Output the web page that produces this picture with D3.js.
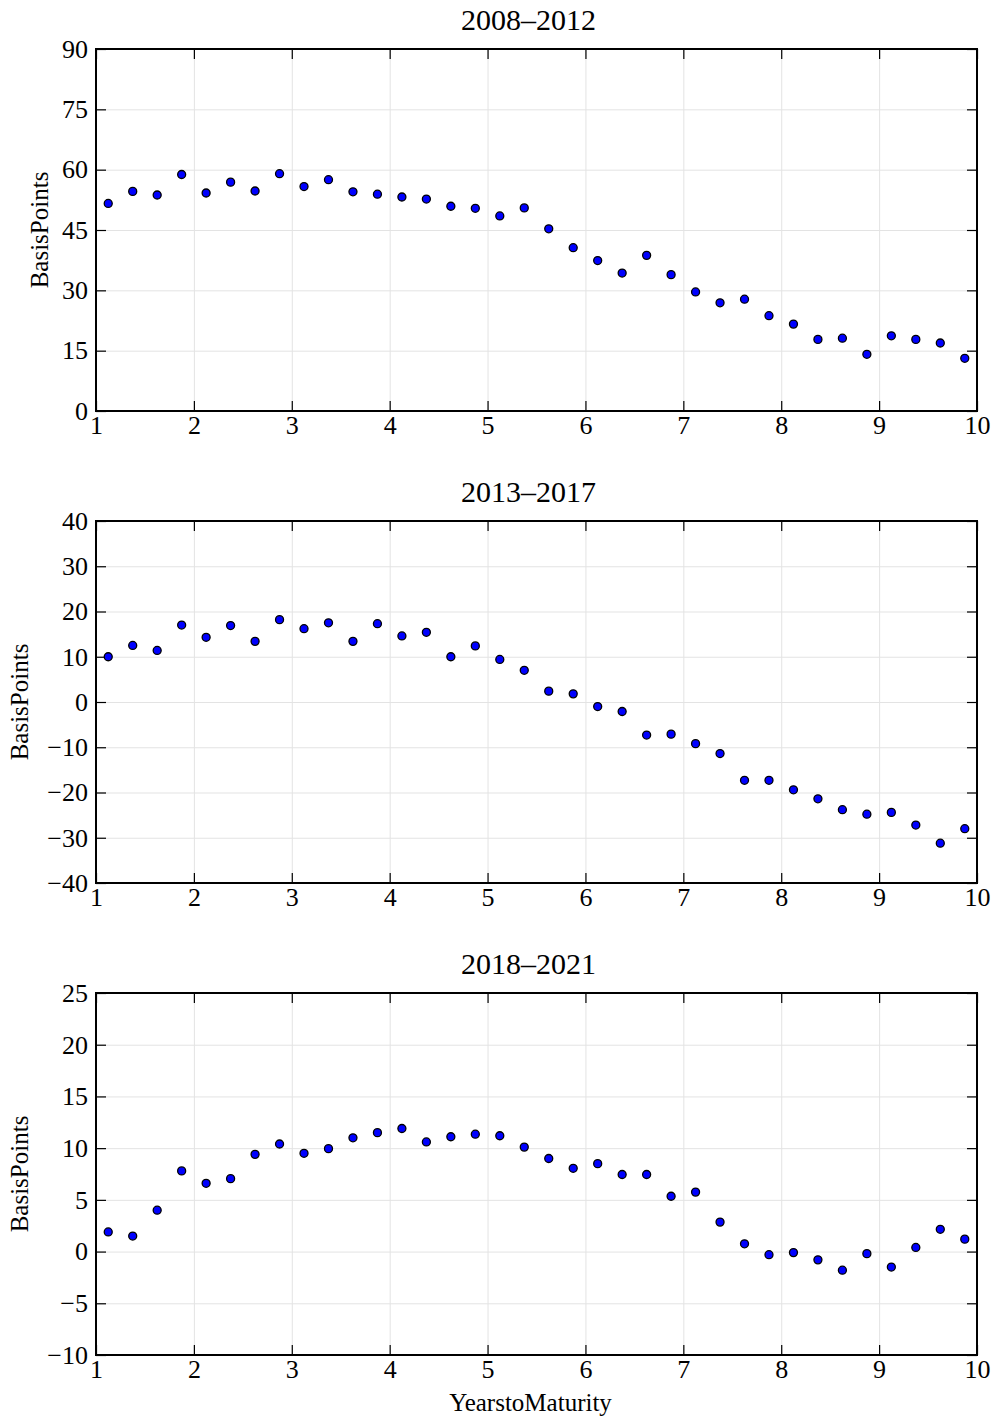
<!DOCTYPE html>
<html>
<head>
<meta charset="utf-8">
<script src="https://cdn.jsdelivr.net/npm/d3@7"></script>
<style>
  body { margin: 0; background: #fff; }
  svg text { font-family: "Liberation Serif", serif; fill: #000; }
</style>
</head>
<body>
<div id="chart"></div>
<script>
// maturities: quarterly buckets 1.125 .. 9.875
const maturities = [1.125, 1.375, 1.625, 1.875, 2.125, 2.375, 2.625, 2.875, 3.125, 3.375, 3.625, 3.875,
    4.125, 4.375, 4.625, 4.875, 5.125, 5.375, 5.625, 5.875, 6.125, 6.375, 6.625, 6.875,
    7.125, 7.375, 7.625, 7.875, 8.125, 8.375, 8.625, 8.875, 9.125, 9.375, 9.625, 9.875];

const bp2008 = [51.6, 54.6, 53.7, 58.8, 54.2, 56.9, 54.7, 59.0, 55.8, 57.5, 54.5, 53.9,
    53.2, 52.7, 50.9, 50.4, 48.5, 50.5, 45.3, 40.6, 37.4, 34.3, 38.7, 33.9,
    29.6, 26.9, 27.8, 23.7, 21.6, 17.8, 18.1, 14.1, 18.7, 17.8, 16.9, 13.1];

const bp2013 = [10.0, 12.5, 11.4, 17.0, 14.3, 16.9, 13.4, 18.2, 16.2, 17.5, 13.4, 17.3,
    14.6, 15.4, 10.0, 12.4, 9.4, 7.0, 2.4, 1.8, -1.0, -2.1, -7.3, -7.1,
    -9.2, -11.4, -17.3, -17.3, -19.4, -21.4, -23.8, -24.8, -24.4, -27.2, -31.2, -28.0];

const bp2018 = [1.9, 1.5, 4.0, 7.8, 6.6, 7.05, 9.4, 10.4, 9.5, 9.95, 11.0, 11.5,
    11.9, 10.6, 11.1, 11.35, 11.2, 10.1, 9.0, 8.05, 8.5, 7.45, 7.45, 5.35,
    5.75, 2.85, 0.75, -0.3, -0.1, -0.8, -1.8, -0.2, -1.5, 0.4, 2.15, 1.2];

const titles = ["2008–2012", "2013–2017", "2018–2021"];
const xTicks = [1, 2, 3, 4, 5, 6, 7, 8, 9, 10];
const yTicks2008 = [0, 15, 30, 45, 60, 75, 90];
const yTicks2013 = [-40, -30, -20, -10, 0, 10, 20, 30, 40];
const yTicks2018 = [-10, -5, 0, 5, 10, 15, 20, 25];

const panels = [
    {title: titles[0], values: bp2008, ticks: yTicks2008, top: 49},
    {title: titles[1], values: bp2013, ticks: yTicks2013, top: 521},
    {title: titles[2], values: bp2018, ticks: yTicks2018, top: 993}
];

const W = 995, H = 1418;
const left = 96, right = 977, ph = 362;
const serif = "Liberation Serif, serif";

let svg = d3.select("#chart").append("svg")
    .attr("width", W)
    .attr("height", H);

let x = d3.scaleLinear().domain([1, 10]).range([0, right - left]);

function fmt(d) {
    // latex style minus sign
    return d < 0 ? "\u2212" + Math.abs(d) : String(d);
}

function drawPanel(p, i) {
    let w = right - left;
    let y = d3.scaleLinear()
        .domain([p.ticks[0], p.ticks[p.ticks.length - 1]])
        .range([ph, 0]);

    let g = svg.append("g")
        .attr("transform", "translate(" + left + "," + p.top + ")");

    // grid
    g.append("g")
        .attr("class", "grid")
        .attr("transform", "translate(0," + ph + ")")
        .call(d3.axisBottom(x).tickValues(xTicks).tickSize(-ph).tickFormat(""));
    g.append("g")
        .attr("class", "grid")
        .call(d3.axisLeft(y).tickValues(p.ticks).tickSize(-w).tickFormat(""));
    g.selectAll(".grid line").attr("stroke", "#e3e3e3").attr("stroke-width", 1);
    g.selectAll(".grid .domain").remove();

    // inward ticks, all four sides
    let tk = 10;
    g.append("g").attr("class", "tk").attr("transform", "translate(0," + ph + ")")
        .call(d3.axisBottom(x).tickValues(xTicks).tickSize(-tk).tickFormat(""));
    g.append("g").attr("class", "tk")
        .call(d3.axisTop(x).tickValues(xTicks).tickSize(-tk).tickFormat(""));
    g.append("g").attr("class", "tk")
        .call(d3.axisLeft(y).tickValues(p.ticks).tickSize(-tk).tickFormat(""));
    g.append("g").attr("class", "tk").attr("transform", "translate(" + w + ",0)")
        .call(d3.axisRight(y).tickValues(p.ticks).tickSize(-tk).tickFormat(""));
    g.selectAll(".tk .domain").remove();
    g.selectAll(".tk line").attr("stroke", "#000").attr("stroke-width", 1.2);

    // tick labels
    let xl = g.append("g").attr("transform", "translate(0," + ph + ")")
        .call(d3.axisBottom(x).tickValues(xTicks).tickSize(0).tickPadding(5));
    xl.attr("font-family", serif).attr("font-size", 26);
    xl.select(".domain").remove();

    let yl = g.append("g")
        .call(d3.axisLeft(y).tickValues(p.ticks).tickSize(0).tickPadding(8).tickFormat(fmt));
    yl.attr("font-family", serif).attr("font-size", 26);
    yl.select(".domain").remove();

    // frame
    g.append("rect")
        .attr("width", w)
        .attr("height", ph)
        .attr("fill", "none")
        .attr("stroke", "#000")
        .attr("stroke-width", 2);

    // points
    g.selectAll(".dot")
        .data(p.values)
        .enter().append("circle")
        .attr("class", "dot")
        .attr("cx", function(d, j){ return x(maturities[j]); })
        .attr("cy", function(d){ return y(d); })
        .attr("r", 4)
        .attr("fill", "#0000ff")
        .attr("stroke", "#000")
        .attr("stroke-width", 1.3);

    // title
    g.append("text")
        .attr("x", w / 2 - 8)
        .attr("y", -19)
        .attr("text-anchor", "middle")
        .attr("font-family", serif)
        .attr("font-size", 30)
        .text(p.title);

    // y label
    let labX = i == 0 ? -48 : -68;
    g.append("text")
        .attr("transform", "translate(" + labX + "," + (ph / 2) + ") rotate(-90)")
        .attr("text-anchor", "middle")
        .attr("font-family", serif)
        .attr("font-size", 25)
        .text("BasisPoints");
}

panels.forEach(drawPanel);

svg.append("text")
    .attr("x", (left + right) / 2 - 6)
    .attr("y", 1411)
    .attr("text-anchor", "middle")
    .attr("font-family", serif)
    .attr("font-size", 25)
    .text("YearstoMaturity");
</script>
</body>
</html>
